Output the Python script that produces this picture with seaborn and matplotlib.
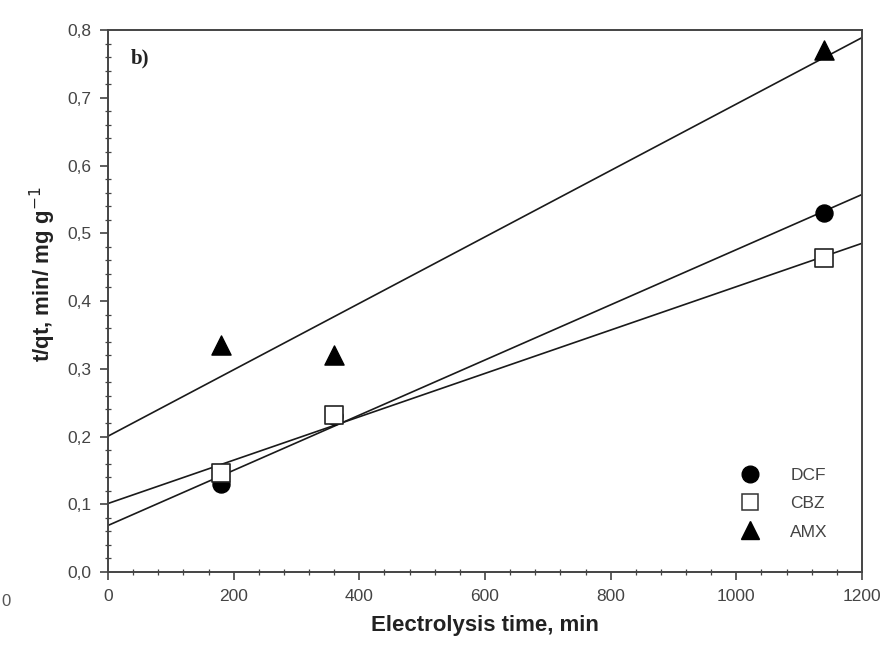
import matplotlib
matplotlib.use("Agg")
import matplotlib.pyplot as plt
from matplotlib.ticker import MultipleLocator, FuncFormatter
from matplotlib.lines import Line2D
import pandas as pd
import seaborn as sns

# data
time_min = [180, 360, 1140]
dcf = [0.130, 0.230, 0.530]
cbz = [0.146, 0.232, 0.463]
amx = [0.335, 0.320, 0.770]
names = ["DCF", "CBZ", "AMX"]

sns.set_style("ticks")
plt.rcParams["font.family"] = ["Liberation Sans", "DejaVu Sans"]

fig = plt.figure(figsize=(8.88, 6.71), dpi=100)
ax = fig.add_axes([0.1216, 0.1475, 0.8491, 0.8078])
ax.set_xlim(0, 1200)
ax.set_ylim(0, 0.8)

markers = {"DCF": "o", "CBZ": "s", "AMX": "^"}
styles = {
    "DCF": dict(s=150, facecolor="black", edgecolor="black"),
    "CBZ": dict(s=160, facecolor="white", edgecolor="#222222", linewidths=1.2),
    "AMX": dict(s=190, facecolor="black", edgecolor="black"),
}
series = {"DCF": dcf, "CBZ": cbz, "AMX": amx}

for name in names:
    df = pd.DataFrame({"t": time_min, "y": series[name]})
    sns.regplot(data=df, x="t", y="y", ax=ax, ci=None, truncate=False,
                marker=markers[name],
                scatter_kws=dict(**styles[name], zorder=3, alpha=1),
                line_kws=dict(color="#1a1a1a", lw=1.2, zorder=2))

ax.set_xlim(0, 1200)
ax.set_ylim(0, 0.8)

ax.xaxis.set_major_locator(MultipleLocator(200))
ax.xaxis.set_minor_locator(MultipleLocator(40))
ax.yaxis.set_major_locator(MultipleLocator(0.1))
ax.yaxis.set_minor_locator(MultipleLocator(0.02))
ax.yaxis.set_major_formatter(FuncFormatter(lambda v, p: f"{v:.1f}".replace(".", ",")))
ax.tick_params(which="major", direction="out", length=6, width=1.1, labelsize=12.5,
               labelcolor="#444444", colors="#333333", pad=6)
ax.tick_params(which="minor", direction="inout", length=5, width=0.9, colors="#444444")
for sp in ax.spines.values():
    sp.set_linewidth(1.4)
    sp.set_color("#444444")

ax.set_xlabel("Electrolysis time, min", fontsize=16, fontweight="bold", labelpad=8, color="#222222")
ax.set_ylabel("t/qt, min/ mg g$^{-1}$", fontsize=16, fontweight="bold", color="#222222")
ax.yaxis.set_label_coords(-0.066, 0.55)

ax.text(0.03, 0.965, "b)", transform=ax.transAxes, fontsize=15, fontweight="bold",
        family=["Liberation Serif", "DejaVu Serif"], va="top", color="#222222")

handles = [
    Line2D([], [], ls="none", marker="o", ms=12, mfc="black", mec="black"),
    Line2D([], [], ls="none", marker="s", ms=12, mfc="white", mec="#333333", mew=1.1),
    Line2D([], [], ls="none", marker="^", ms=13, mfc="black", mec="black"),
]
leg = ax.legend(handles, names, loc="lower right", bbox_to_anchor=(0.955, 0.06),
                frameon=False, fontsize=12.5, handletextpad=1.3, labelspacing=0.75,
                borderpad=0, borderaxespad=0)
for t in leg.get_texts():
    t.set_color("#444444")

fig.text(0.007, 0.104, "0", fontsize=12, color="#555555", ha="center", va="center")

fig.savefig("out.png", dpi=100)
